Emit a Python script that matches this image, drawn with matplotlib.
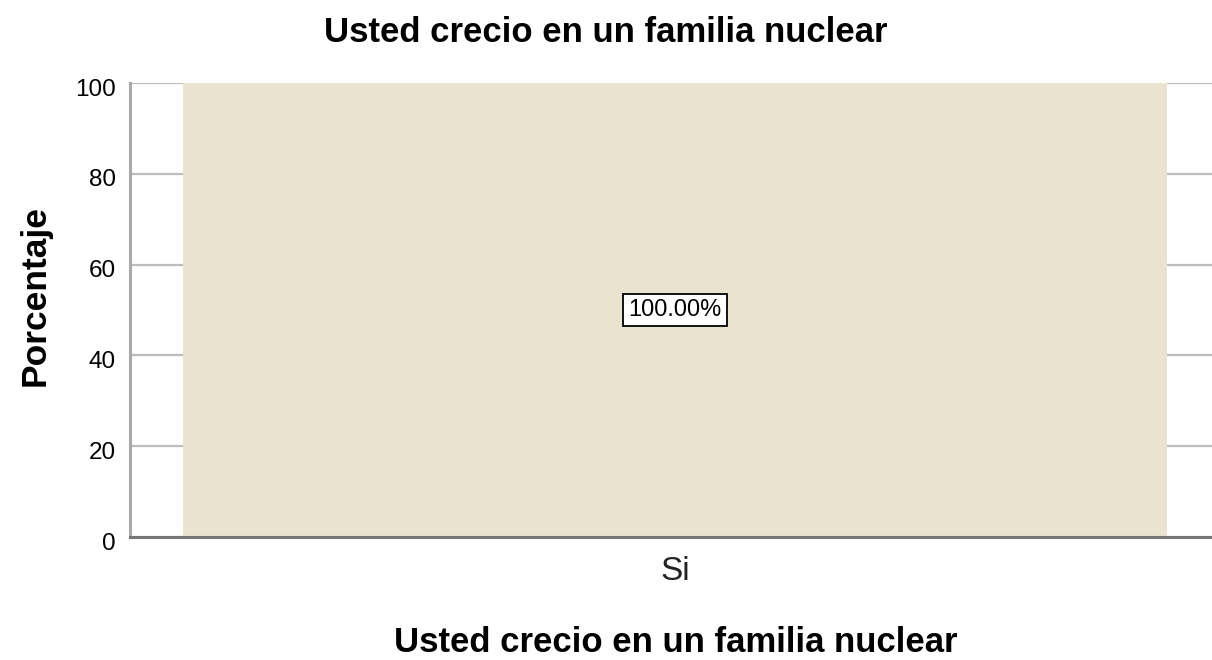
import matplotlib
matplotlib.use("Agg")
import matplotlib.pyplot as plt
import matplotlib.transforms as mtransforms

categories = ["Si"]
percentages = [100.0]
value_labels = ["100.00%"]
yticks = [0, 20, 40, 60, 80, 100]
title = "Usted crecio en un familia nuclear"
xlabel = "Usted crecio en un familia nuclear"
ylabel = "Porcentaje"

plt.rcParams['font.family'] = ['Liberation Sans', 'DejaVu Sans']

W, H = 1212, 660
fig = plt.figure(figsize=(W / 100, H / 100), dpi=100)
ax = fig.add_axes([130 / W, 1 - 537 / H, (W - 130) / W, (537 - 83) / H])

xpos = list(range(len(categories)))
bars = ax.bar(xpos, percentages, width=1.0, color="#E9E3CF", edgecolor="none", zorder=2)
for x, v, lab in zip(xpos, percentages, value_labels):
    ax.text(x, v / 2, lab, ha="center", va="center", fontsize=17, zorder=3,
            bbox=dict(boxstyle="square,pad=0.22", fc="white", ec="black", lw=1.3))

ax.set_xlim(-545 / 984, 537 / 984)
ax.set_ylim(0, 100)
ax.set_yticks(yticks)
ax.set_yticklabels([str(t) for t in yticks], fontsize=17.5)
ax.set_xticks(xpos)
ax.set_xticklabels(categories, fontsize=24, color="#222222")
ax.tick_params(axis="y", length=0, pad=10)
ax.tick_params(axis="x", length=0, pad=14)
ax.yaxis.grid(True, color="#BDBDBD", lw=1.6, zorder=1)
ax.set_axisbelow(True)

offset = mtransforms.ScaledTranslation(0, -4 / 100, fig.dpi_scale_trans)
for lbl in ax.get_yticklabels():
    lbl.set_transform(lbl.get_transform() + offset)

for s in ["top", "right"]:
    ax.spines[s].set_visible(False)
ax.spines["left"].set_color("#A9A9A9")
ax.spines["left"].set_linewidth(2.2)
ax.spines["bottom"].set_color("#777777")
ax.spines["bottom"].set_linewidth(2.2)

fig.text(606 / W, 1 - 32 / H, title, ha="center", va="center", fontsize=25, fontweight="bold")
fig.text(676 / W, 1 - 642 / H, xlabel, ha="center", va="center", fontsize=25, fontweight="bold")
fig.text(35 / W, 1 - 295 / H, ylabel, ha="center", va="center", rotation=90, fontsize=25.5, fontweight="bold")

fig.savefig("out.png", dpi=100)
